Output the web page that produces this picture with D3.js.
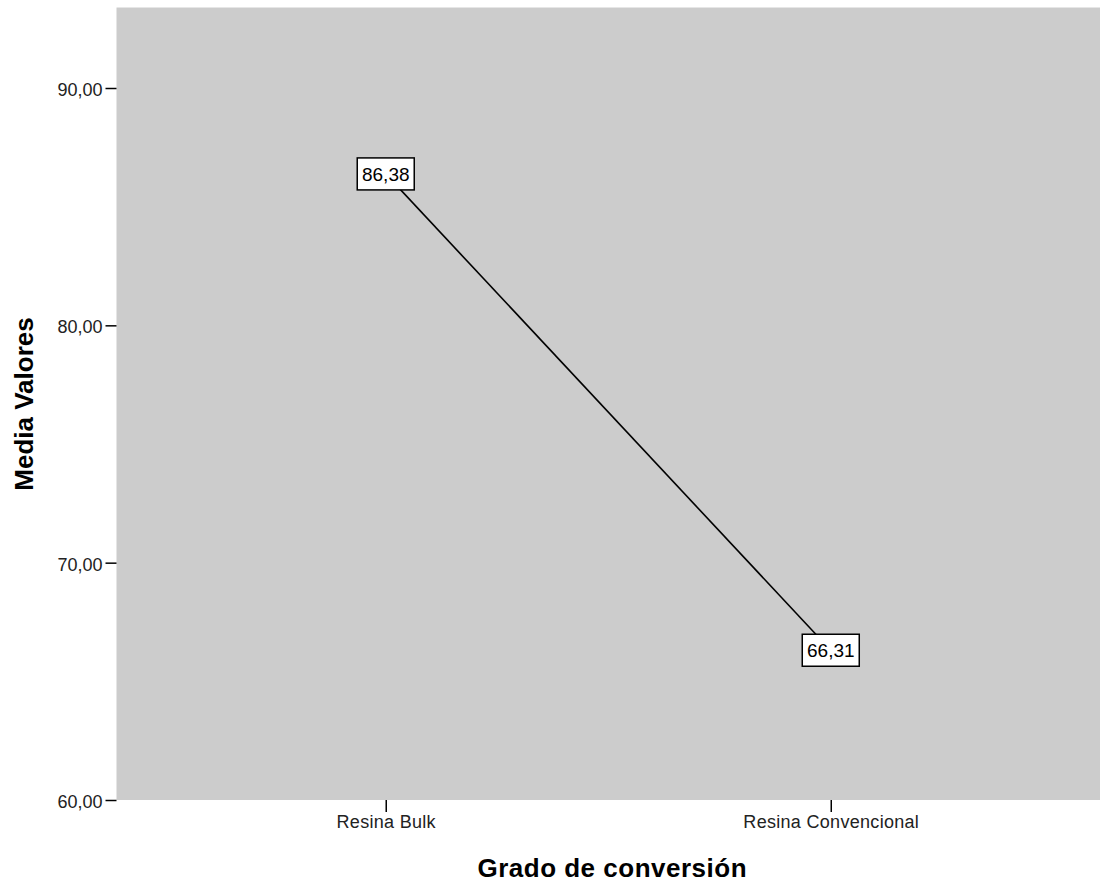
<!DOCTYPE html>
<html><head><meta charset="utf-8">
<script src="https://cdn.jsdelivr.net/npm/d3@7/dist/d3.min.js"></script>
<style>body{margin:0;background:#fff}svg{display:block}text{font-family:"Liberation Sans",Arial,sans-serif}</style>
</head><body><svg id="c" width="1100" height="883"></svg>
<script>
const categories = ["Resina Bulk", "Resina Convencional"];
const meanValues = [86.38, 66.31];
const valueLabels = ["86,38", "66,31"];
const yTicks = [60, 70, 80, 90];
const yTickLabels = ["60,00", "70,00", "80,00", "90,00"];
const xTitle = "Grado de conversión";
const yTitle = "Media Valores";

const svg = d3.select("#c");
const L = 116.5, R = 1100, T = 8, B = 800;
const x = d3.scalePoint().domain(categories).range([L, R]).padding(0.605);
const y = d3.scaleLinear().domain([60, 60 + (B - T) / ((B - 88) / 30)]).range([B, T]);

svg.append("rect").attr("x", L).attr("y", T).attr("width", R - L).attr("height", B - T).attr("fill", "#cccccc");
svg.append("line").attr("x1", L).attr("x2", R).attr("y1", T - 0.5).attr("y2", T - 0.5).attr("stroke", "#e6e6e6");

const ya = svg.append("g").attr("transform", `translate(${L},0)`)
  .call(d3.axisLeft(y).tickValues(yTicks).tickFormat((d, i) => yTickLabels[i]).tickSize(11).tickPadding(3));
ya.select(".domain").remove();
ya.selectAll("line").attr("stroke", "#000").attr("stroke-width", 1.5);
ya.selectAll("text").attr("font-size", 18).attr("fill", "#222").attr("dy", "0.42em");

const xa = svg.append("g").attr("transform", `translate(0,${B})`)
  .call(d3.axisBottom(x).tickSize(12).tickPadding(3));
xa.select(".domain").remove();
xa.selectAll("line").attr("stroke", "#000").attr("stroke-width", 1.5);
xa.selectAll("text").attr("font-size", 18).attr("fill", "#222").attr("letter-spacing", 0.3);

const pts = categories.map((c, i) => [x(c), y(meanValues[i])]);
svg.append("path").attr("d", d3.line()(pts)).attr("fill", "none").attr("stroke", "#000").attr("stroke-width", 1.6);

const lab = svg.selectAll("g.lab").data(categories).enter().append("g").attr("class", "lab")
  .attr("transform", (c, i) => `translate(${x(c)},${y(meanValues[i])})`);
lab.append("rect").attr("x", -28.5).attr("y", -16).attr("width", 57).attr("height", 32)
  .attr("fill", "#fff").attr("stroke", "#000").attr("stroke-width", 1.5);
lab.append("text").attr("text-anchor", "middle").attr("dy", "0.36em").attr("font-size", 19)
  .text((c, i) => valueLabels[i]);

svg.append("text").attr("x", (L + R) / 2 + 4).attr("y", 877).attr("text-anchor", "middle")
  .attr("font-size", 26).attr("font-weight", "bold").attr("letter-spacing", 0.5).text(xTitle);
svg.append("text").attr("transform", `translate(33,${(T + B) / 2}) rotate(-90)`).attr("text-anchor", "middle")
  .attr("font-size", 26).attr("font-weight", "bold").text(yTitle);
</script></body></html>
